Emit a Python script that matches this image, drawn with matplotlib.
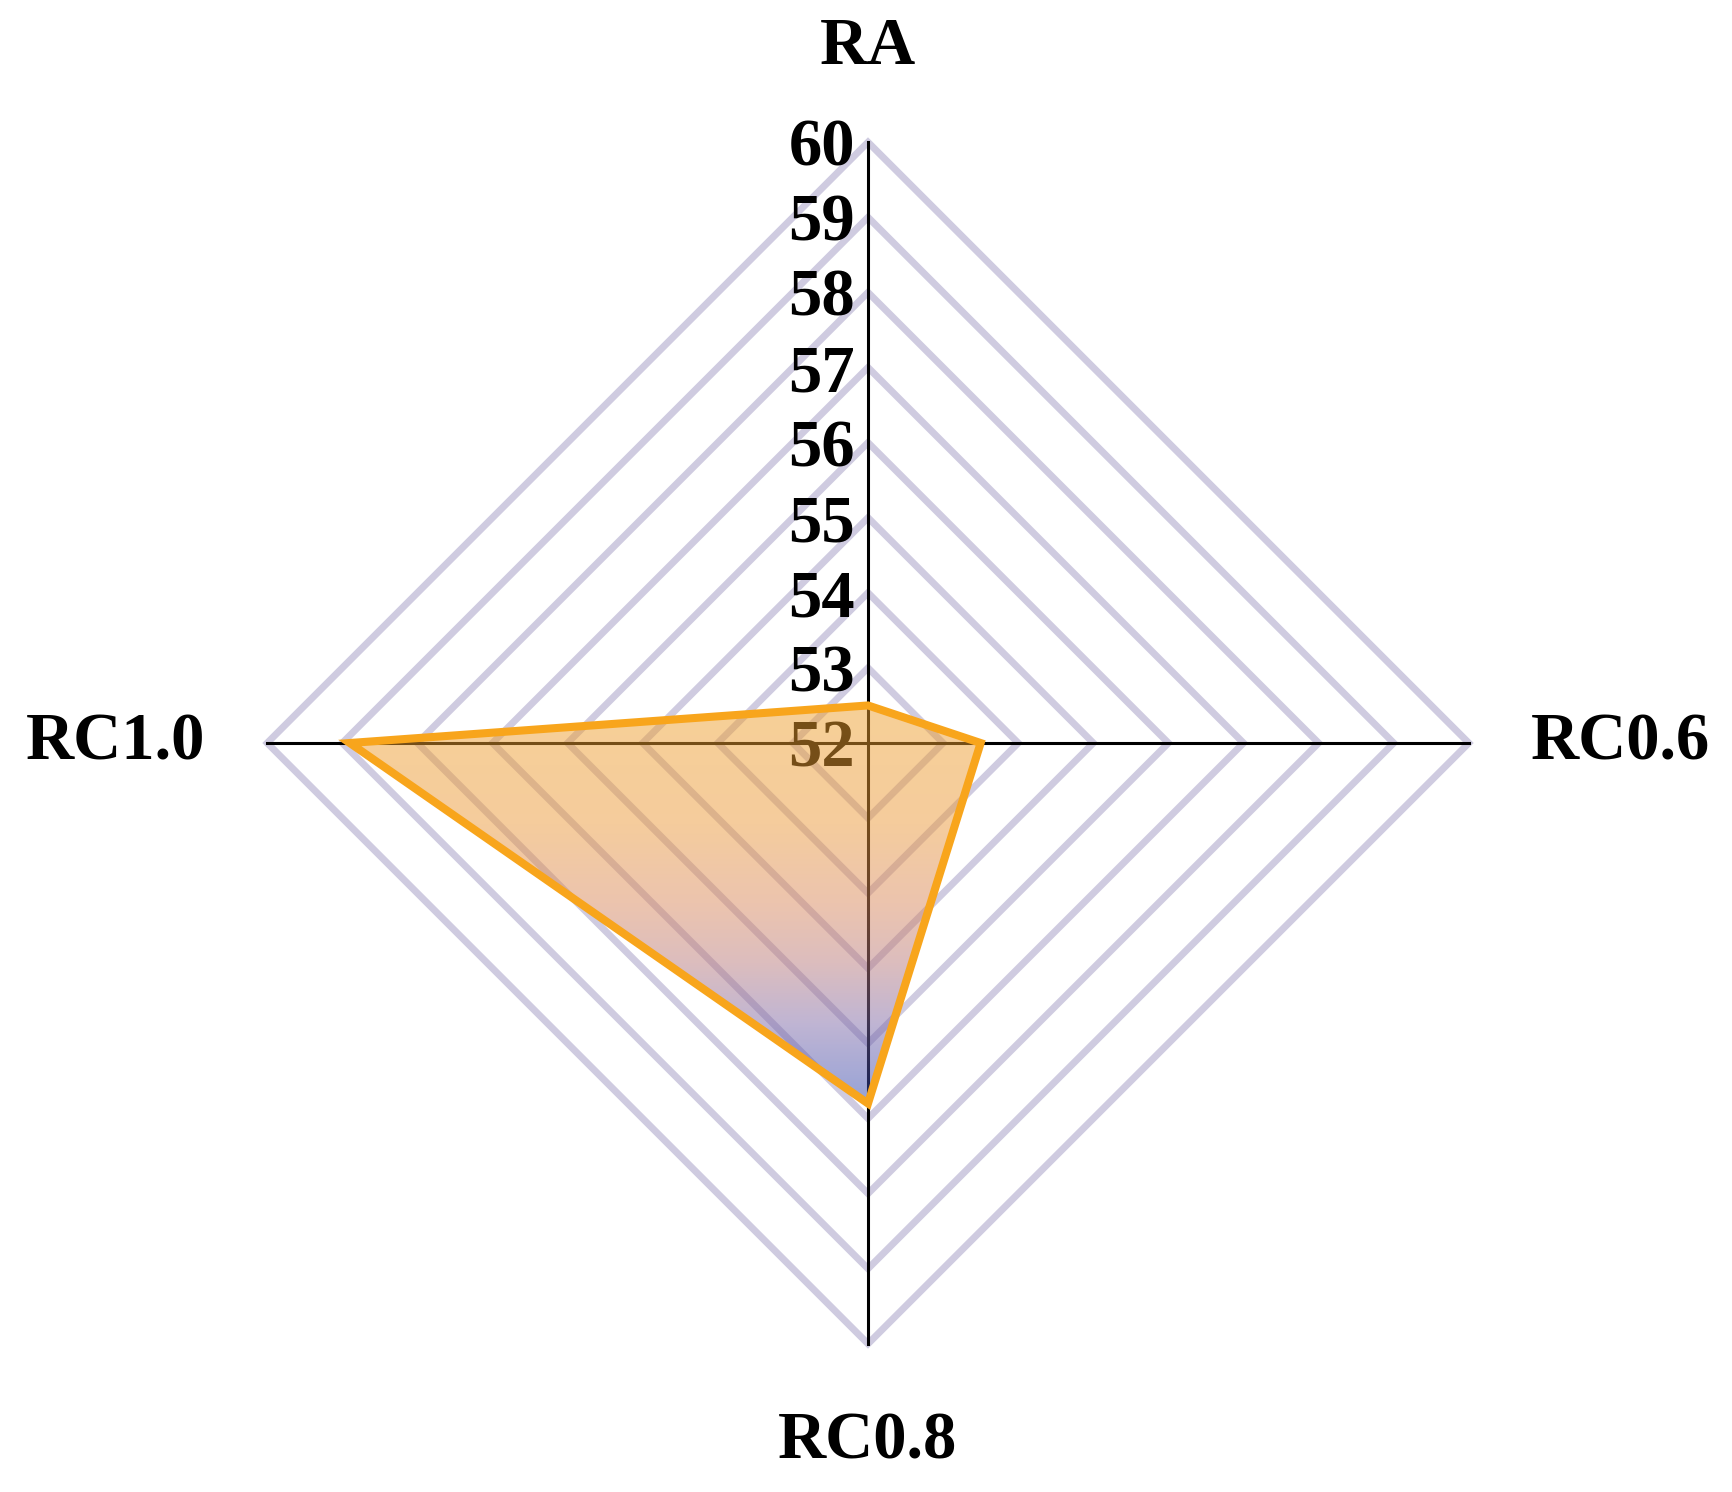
import numpy as np
import matplotlib
matplotlib.use("Agg")
import matplotlib.pyplot as plt
from matplotlib.patches import Polygon
from matplotlib.colors import LinearSegmentedColormap

# data
categories = ["RA", "RC0.6", "RC0.8", "RC1.0"]
values = [52.5, 53.5, 56.8, 58.9]
ticks = [52, 53, 54, 55, 56, 57, 58, 59, 60]
rmin, rmax = 52, 60

plt.rcParams["font.family"] = ["Liberation Serif", "DejaVu Serif"]
plt.rcParams["font.weight"] = "bold"

fig = plt.figure(figsize=(8.66, 7.46), dpi=200)
ax = fig.add_axes((0, 0, 1, 1))
ppu = 75.1  # pixels per radial unit
cx, cy = 868, 743
ax.set_xlim(-cx / ppu, (1732 - cx) / ppu)
ax.set_ylim(-(1492 - cy) / ppu, cy / ppu)
ax.axis("off")

# angles: top, right, bottom, left (clockwise)
angles = np.pi / 2 - np.arange(len(categories)) * 2 * np.pi / len(categories)
ux, uy = np.cos(angles), np.sin(angles)

# diamond grid
for t in ticks[1:]:
    r = t - rmin
    ax.add_patch(Polygon(np.c_[r * ux, r * uy], closed=True, fill=False,
                         edgecolor="#cfcbe0", lw=2.5, joinstyle="miter", zorder=1))

# spokes
R = rmax - rmin
for x, y in zip(ux, uy):
    ax.plot([0, R * x], [0, R * y], color="black", lw=1.1, zorder=2)

# radial tick labels
for t in ticks:
    ax.text(-0.17, t - rmin, str(t), ha="right", va="center_baseline",
            fontsize=24, fontweight="bold", zorder=3)

# category labels
offs = [R + 0.85, R + 0.83, R + 0.9, R + 0.83]
aligns = [("center", "bottom"), ("left", "center"), ("center", "top"), ("right", "center")]
for lab, x, y, o, (ha, va) in zip(categories, ux, uy, offs, aligns):
    ax.text(o * x, o * y, lab, ha=ha, va=va, fontsize=24, fontweight="bold")

# data polygon with vertical gradient fill (orange -> blue)
r = np.array(values) - rmin
pts = np.c_[r * ux, r * uy]
poly = Polygon(pts, closed=True, facecolor="none", edgecolor="none", zorder=4)
ax.add_patch(poly)
seen = [(0.0, (247, 208, 150)), (0.3, (245, 204, 156)), (0.5, (236, 196, 174)),
        (0.65, (220, 189, 190)), (0.8, (192, 181, 211)), (1.0, (150, 162, 215))]
stops = [(p, tuple(min(max((2 * c - 255) / 255, 0), 1) for c in rgb)) for p, rgb in seen]
cmap = LinearSegmentedColormap.from_list("ob", stops)
grad = np.linspace(0, 1, 256).reshape(-1, 1)
im = ax.imshow(grad, cmap=cmap, alpha=0.5, aspect="auto", origin="upper",
               extent=(pts[:, 0].min(), pts[:, 0].max(), pts[:, 1].min(), pts[:, 1].max()),
               zorder=4)
im.set_clip_path(poly)
ax.add_patch(Polygon(pts, closed=True, fill=False, edgecolor="#f8a51c",
                     lw=2.9, joinstyle="miter", zorder=5))

fig.savefig("out.png", dpi=200)
